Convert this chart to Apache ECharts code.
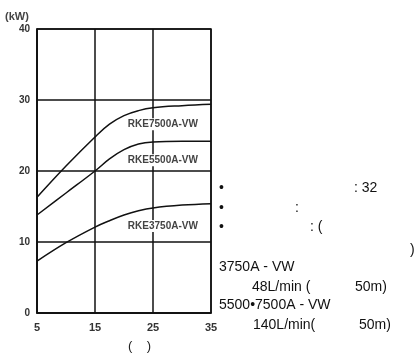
<!DOCTYPE html>
<html><head><meta charset="utf-8">
<script src="https://cdn.jsdelivr.net/npm/echarts@6/dist/echarts.min.js"></script>
<style>html,body{margin:0;padding:0;background:#fff}#c{width:417px;height:354px}</style>
</head><body><div id="c"></div>
<script>
const xTicks = [5, 15, 25, 35];
const yTicks = [0, 10, 20, 30, 40];
const xValues = [5, 10, 15, 17.5, 20, 22.5, 25, 30, 35];
const rke7500 = [16.3, 20.7, 24.8, 26.6, 27.8, 28.5, 28.9, 29.2, 29.4];
const rke5500 = [13.8, 16.9, 20.0, 21.7, 23.0, 23.8, 24.1, 24.2, 24.2];
const rke3750 = [7.3, 9.9, 12.1, 13.0, 13.8, 14.4, 14.8, 15.2, 15.4];
const seriesNames = ['RKE7500A-VW', 'RKE5500A-VW', 'RKE3750A-VW'];
const labelAt = [[26.7, 26.6], [26.7, 21.5], [26.7, 12.25]];

const chart = echarts.init(document.getElementById('c'), null, {renderer: 'canvas'});
const pair = arr => xValues.map((x, i) => [x, arr[i]]);
const lineStyle = {color: '#111', width: 1.5};
const FONT = 'Liberation Sans, Arial';
const mkSeries = (name, arr, idx) => ({
  name, type: 'line', data: pair(arr), smooth: 0.4, symbol: 'none',
  lineStyle, z: 3,
  markPoint: {
    symbol: 'rect', symbolSize: 1, silent: true, z: 12,
    itemStyle: {color: 'rgba(0,0,0,0)'},
    label: {show: true, formatter: name, color: '#444', fontSize: 10, fontWeight: 'bold',
      fontFamily: FONT, position: 'inside', backgroundColor: '#fff', padding: [1, 1]},
    data: [{coord: labelAt[idx]}]
  }
});
const txt = (x, y, text) => ({type: 'text', x, y, style: {text, fontSize: 14, fill: '#111', fontFamily: FONT, verticalAlign: 'middle'}});
chart.setOption({
  animation: false,
  grid: {left: 37, right: 206, top: 29, bottom: 41},
  xAxis: {
    type: 'value', min: xTicks[0], max: xTicks[xTicks.length - 1], interval: 10,
    axisLine: {show: true, lineStyle: {color: '#111', width: 1.5}},
    axisTick: {show: false},
    splitLine: {show: true, lineStyle: {color: '#111', width: 1.5}},
    axisLabel: {color: '#333', fontSize: 11, fontWeight: 'bold', margin: 9,
      fontFamily: FONT, customValues: xTicks}
  },
  yAxis: {
    type: 'value', min: yTicks[0], max: yTicks[yTicks.length - 1], interval: 10,
    axisLine: {show: true, lineStyle: {color: '#111', width: 1.5}},
    axisTick: {show: false},
    splitLine: {show: true, lineStyle: {color: '#111', width: 1.5}},
    axisLabel: {color: '#333', fontSize: 10, fontWeight: 'bold', margin: 7, fontFamily: FONT}
  },
  series: [
    mkSeries(seriesNames[0], rke7500, 0),
    mkSeries(seriesNames[1], rke5500, 1),
    mkSeries(seriesNames[2], rke3750, 2)
  ],
  graphic: [
    {type: 'rect', shape: {x: 37, y: 29, width: 174, height: 284}, style: {fill: 'none', stroke: '#111', lineWidth: 1.5}, z: 10, silent: true},
    {type: 'text', x: 5, y: 17, style: {text: '(kW)', fontSize: 11, fontWeight: 'bold', fill: '#444', fontFamily: FONT, verticalAlign: 'middle'}},
    {type: 'text', x: 128, y: 346, style: {text: '(    )', fontSize: 13, fill: '#222', fontFamily: FONT, verticalAlign: 'middle'}},
    txt(219, 188, '•'), txt(354, 188, ': 32'),
    txt(219, 208, '•'), txt(295, 208, ':'),
    txt(219, 227, '•'), txt(310, 227, ': ('),
    txt(410, 250, ')'),
    txt(219, 267, '3750A - VW'),
    txt(252, 287, '48L/min ('), txt(355, 287, '50m)'),
    txt(219, 305, '5500•7500A - VW'),
    txt(253, 325, '140L/min('), txt(359, 325, '50m)')
  ]
});
</script></body></html>
